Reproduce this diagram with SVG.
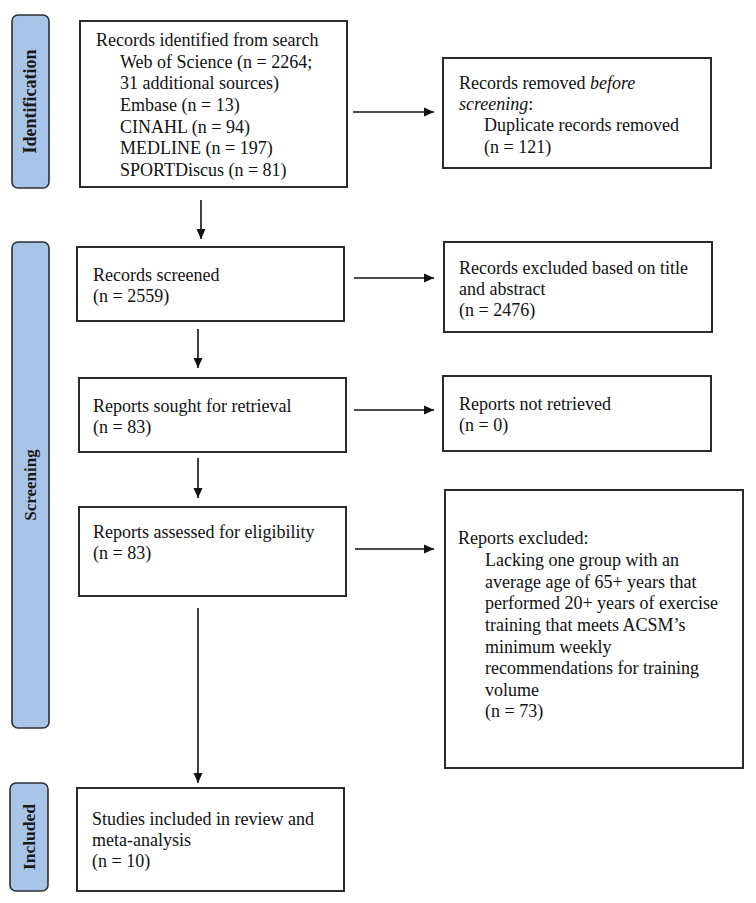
<svg xmlns="http://www.w3.org/2000/svg" width="756" height="903" viewBox="0 0 756 903">
<style>
.bar{fill:#a8c4e6;stroke:#2b2f36;stroke-width:1.6}
.box{fill:#fff;stroke:#2b2b2b;stroke-width:2}
.t{font-family:"Liberation Serif","Times New Roman",serif;font-size:18px;fill:#111}
.lab{font-family:"Liberation Serif","Times New Roman",serif;font-weight:bold;fill:#1a1a1a;text-anchor:middle}
.c{stroke:#111;stroke-width:1.6;fill:none;marker-end:url(#ah)}
</style>
<defs>
<marker id="ah" viewBox="0 0 10 10" refX="10" refY="5" markerWidth="10" markerHeight="10" markerUnits="userSpaceOnUse" orient="auto">
<path d="M0,0.5 L10,5 L0,9.5 Z" fill="#111"/>
</marker>
</defs>
<rect width="756" height="903" fill="#fff"/>

<g id="phase-identification">
<rect class="bar" x="12" y="15" width="37" height="173" rx="6"/>
<text class="lab" font-size="18" transform="translate(36,101.5) rotate(-90)">Identification</text>
</g>
<g id="phase-screening">
<rect class="bar" x="12" y="242" width="37" height="486" rx="6"/>
<text class="lab" font-size="17" transform="translate(36,485) rotate(-90)">Screening</text>
</g>
<g id="phase-included">
<rect class="bar" x="10" y="783" width="38" height="108" rx="6"/>
<text class="lab" font-size="17.5" transform="translate(35,837) rotate(-90)">Included</text>
</g>

<g id="n-identified">
<rect class="box" x="80" y="21" width="267" height="166"/>
<text class="t" x="96" y="46">Records identified from search</text>
<text class="t" x="120" y="68">Web of Science (n = 2264;</text>
<text class="t" x="120" y="89">31 additional sources)</text>
<text class="t" x="120" y="111">Embase (n = 13)</text>
<text class="t" x="120" y="133">CINAHL (n = 94)</text>
<text class="t" x="120" y="154">MEDLINE (n = 197)</text>
<text class="t" x="120" y="176">SPORTDiscus (n = 81)</text>
</g>

<g id="n-removed">
<rect class="box" x="443" y="58" width="268" height="110"/>
<text class="t" x="459" y="89">Records removed <tspan font-style="italic">before</tspan></text>
<text class="t" x="459" y="110"><tspan font-style="italic">screening</tspan>:</text>
<text class="t" x="484" y="131">Duplicate records removed</text>
<text class="t" x="484" y="153">(n = 121)</text>
</g>

<g id="n-screened">
<rect class="box" x="77" y="247" width="267" height="74"/>
<text class="t" x="93" y="281">Records screened</text>
<text class="t" x="93" y="302">(n = 2559)</text>
</g>

<g id="n-excluded-title">
<rect class="box" x="444" y="242" width="268" height="90"/>
<text class="t" x="459" y="274">Records excluded based on title</text>
<text class="t" x="459" y="295">and abstract</text>
<text class="t" x="459" y="316">(n = 2476)</text>
</g>

<g id="n-sought">
<rect class="box" x="79" y="378" width="267" height="74"/>
<text class="t" x="93" y="412">Reports sought for retrieval</text>
<text class="t" x="93" y="433">(n = 83)</text>
</g>

<g id="n-not-retrieved">
<rect class="box" x="443" y="376" width="268" height="75"/>
<text class="t" x="459" y="410">Reports not retrieved</text>
<text class="t" x="459" y="431">(n = 0)</text>
</g>

<g id="n-assessed">
<rect class="box" x="79" y="507" width="267" height="89"/>
<text class="t" x="93" y="538">Reports assessed for eligibility</text>
<text class="t" x="93" y="559">(n = 83)</text>
</g>

<g id="n-reports-excluded">
<rect class="box" x="445" y="490" width="298" height="278"/>
<text class="t" x="458" y="544">Reports excluded:</text>
<text class="t" x="485" y="566">Lacking one group with an</text>
<text class="t" x="485" y="588">average age of 65+ years that</text>
<text class="t" x="485" y="609">performed 20+ years of exercise</text>
<text class="t" x="485" y="631">training that meets ACSM’s</text>
<text class="t" x="485" y="653">minimum weekly</text>
<text class="t" x="485" y="674">recommendations for training</text>
<text class="t" x="485" y="696">volume</text>
<text class="t" x="485" y="717">(n = 73)</text>
</g>

<g id="n-included">
<rect class="box" x="77" y="788" width="267" height="103"/>
<text class="t" x="92" y="825">Studies included in review and</text>
<text class="t" x="92" y="846">meta-analysis</text>
<text class="t" x="92" y="867">(n = 10)</text>
</g>

<g id="connectors">
<line class="c" x1="201" y1="200" x2="201" y2="239"/>
<line class="c" x1="198" y1="329" x2="198" y2="368"/>
<line class="c" x1="198" y1="458" x2="198" y2="498"/>
<line class="c" x1="198" y1="608" x2="198" y2="783"/>
<line class="c" x1="353" y1="112" x2="434" y2="112"/>
<line class="c" x1="354" y1="278" x2="434" y2="278"/>
<line class="c" x1="354" y1="410" x2="434" y2="410"/>
<line class="c" x1="355" y1="549" x2="434" y2="549"/>
</g>
</svg>
